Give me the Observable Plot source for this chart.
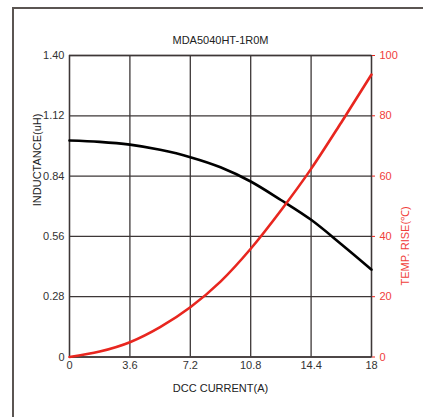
<!DOCTYPE html>
<html>
<head>
<meta charset="utf-8">
<script src="https://cdn.jsdelivr.net/npm/d3@7"></script>
<script src="https://cdn.jsdelivr.net/npm/@observablehq/plot@0.6"></script>
<style>
  html, body { margin: 0; padding: 0; background: #fff; }
  #wrap { position: relative; width: 423px; height: 417px; overflow: hidden; }
  #border { position: absolute; left: 12px; top: 7px; width: 500px; height: 500px;
            border-left: 2px solid #5b5552; border-top: 2px solid #5b5552; }
  #chart { position: absolute; left: 0; top: 0; }
</style>
</head>
<body>
<div id="wrap"><div id="border"></div><div id="chart"></div></div>
<script>
const title = "MDA5040HT-1R0M";
const xLabel = "DCC CURRENT(A)";
const yLabel = "INDUCTANCE(uH)";
const y2Label = "TEMP. RISE(\u2103)";

const currents   = [0, 1.8, 3.6, 5.4, 7.2, 9, 10.8, 12.6, 14.4, 16.2, 18];
const inductance = [1.005, 0.999, 0.986, 0.962, 0.928, 0.881, 0.815, 0.729, 0.637, 0.524, 0.406];
const tempRise   = [0, 1.8, 4.9, 9.9, 16.5, 25, 35.9, 48.6, 62.4, 77.8, 93.7];

const xTicks = [0, 3.6, 7.2, 10.8, 14.4, 18];
const yTicks = [0, 0.28, 0.56, 0.84, 1.12, 1.40];
const tempTicks = [0, 20, 40, 60, 80, 100];

const yMax = 1.4, tMax = 100;
const toY = t => t * yMax / tMax;

const data = currents.map((c, i) => ({c, ind: inductance[i], temp: tempRise[i]}));
const red = "#e8261f";
const redText = "#f0403a";
const gridColor = "#3d3737";

const chart = Plot.plot({
  width: 423,
  height: 417,
  marginLeft: 69,
  marginRight: 52,
  marginTop: 55,
  marginBottom: 60.5,
  style: {fontFamily: "'Liberation Sans', Arial, sans-serif", fontSize: "11px", color: "#333", background: "transparent"},
  x: {domain: [0, 18]},
  y: {domain: [0, yMax]},
  marks: [
    Plot.gridX(xTicks, {stroke: gridColor, strokeOpacity: 1, strokeWidth: 1.3}),
    Plot.gridY(yTicks, {stroke: gridColor, strokeOpacity: 1, strokeWidth: 1.3}),
    Plot.frame({stroke: gridColor, strokeWidth: 1.3}),
    Plot.line(data, {x: "c", y: "ind", stroke: "#000", strokeWidth: 2.6, curve: "monotone-x"}),
    Plot.line(data, {x: "c", y: d => toY(d.temp), stroke: red, strokeWidth: 2.6, curve: "monotone-x"}),
    Plot.axisY(yTicks, {anchor: "left", tickSize: 0, tickPadding: 5, label: null,
      tickFormat: d => d === 0 ? "0" : d.toFixed(2), fill: "#333"}),
    Plot.axisY(tempTicks.map(toY), {anchor: "right", tickSize: 3, tickPadding: 5, label: null,
      stroke: red, fill: redText, tickFormat: d => String(Math.round(d / yMax * tMax))}),
    Plot.axisX(xTicks, {tickSize: 0, tickPadding: 4, label: null, tickFormat: d => String(d), fill: "#333"}),
    Plot.text([title], {text: d => d, frameAnchor: "top", dy: -19, fill: "#222", fontSize: 11}),
    Plot.text([xLabel], {text: d => d, frameAnchor: "bottom", dy: 35, fill: "#222", fontSize: 11}),
    Plot.text([yLabel], {text: d => d, frameAnchor: "left", dx: -32, rotate: -90, fill: "#222", fontSize: 11}),
    Plot.text([y2Label], {text: d => d, frameAnchor: "right", dx: 34, rotate: -90, fill: redText, fontSize: 11})
  ]
});
document.getElementById("chart").append(chart);
</script>
</body>
</html>
